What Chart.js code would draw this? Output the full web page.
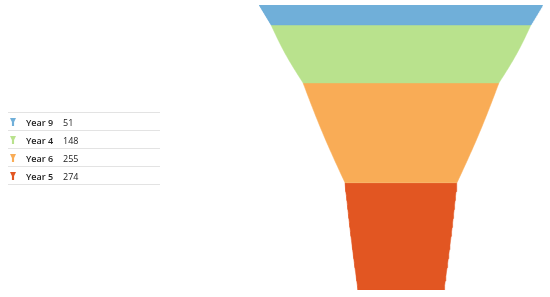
<!DOCTYPE html>
<html>
<head>
<meta charset="utf-8">
<script src="https://cdn.jsdelivr.net/npm/chart.js@4.4.1/dist/chart.umd.min.js"></script>
<style>
    body { margin: 0; background: #fff; }
    #wrap { position: relative; width: 550px; height: 297px; }
    #legend {
        position: absolute; left: 8px; top: 112px; width: 152px;
        font-family: "Open Sans", sans-serif; font-size: 9px; color: #222;
    }
    .row { position: relative; height: 17px; border-top: 1px solid #e3e3e3; }
    .row:last-child { border-bottom: 1px solid #e3e3e3; }
    .icon {
        position: absolute; left: 2px; top: 5px; width: 6px; height: 8px;
        clip-path: polygon(0 0, 100% 0, 68% 50%, 68% 100%, 32% 100%, 32% 50%);
    }
    .lbl { position: absolute; left: 18px; top: 3px; font-weight: 600; }
    .val { position: absolute; left: 55px; top: 3px; }
</style>
</head>
<body>
<div id="wrap">
    <canvas id="funnel" width="550" height="297"></canvas>
    <div id="legend"></div>
</div>
<script>
// data (top to bottom)
const categories = ["Year 9", "Year 4", "Year 6", "Year 5"];
const values = [51, 148, 255, 274];
const colors = ["#70afd9", "#b9e28d", "#f9ac56", "#e25622"];

// outline of the funnel: [fraction of height, half width as fraction of top, bulge of the piece below]
const outline = [[0, 1, 0], [0.070, 0.915, 0.012], [0.273, 0.69, 0.01], [0.624, 0.394, 0.004], [1, 0.303, 0]];

function halfWidth(t) {
    let i = 0;
    while (i < outline.length - 2 && t > outline[i + 1][0]) i++;
    const [t0, f0, b] = outline[i], [t1, f1] = outline[i + 1];
    const s = (t - t0) / (t1 - t0);
    return f0 + (f1 - f0) * s + b * Math.sin(Math.PI * s);
}

const total = values.reduce((a, b) => a + b, 0);

// one closed shape per category, between its cumulative start and end
let start = 0;
const datasets = values.map((v, idx) => {
    const end = start + v;
    const left = [], right = [];
    const steps = 24;
    for (let k = 0; k <= steps; k++) {
        const y = start + (end - start) * k / steps;
        const w = halfWidth(y / total);
        left.push({ x: -w, y: y });
        right.unshift({ x: w, y: y });
    }
    start = end;
    return {
        label: categories[idx],
        data: left.concat(right),
        showLine: true,
        fill: 'shape',
        backgroundColor: colors[idx],
        borderColor: colors[idx],
        borderWidth: 0.5,
        pointRadius: 0,
        tension: 0
    };
});

new Chart(document.getElementById("funnel"), {
    type: "scatter",
    data: { datasets: datasets },
    options: {
        responsive: false,
        animation: false,
        events: [],
        layout: { padding: { left: 259, right: 7, top: 5, bottom: 7 } },
        plugins: { legend: { display: false }, tooltip: { enabled: false } },
        scales: {
            x: { type: "linear", min: -1, max: 1, display: false },
            y: { type: "linear", min: 0, max: total, reverse: true, display: false }
        }
    }
});

// legend table
const legend = document.getElementById("legend");
categories.forEach((c, i) => {
    const row = document.createElement("div");
    row.className = "row";
    row.innerHTML = '<span class="icon" style="background:' + colors[i] + '"></span>' +
        '<span class="lbl">' + c + '</span><span class="val">' + values[i] + '</span>';
    legend.appendChild(row);
});
</script>
</body>
</html>
